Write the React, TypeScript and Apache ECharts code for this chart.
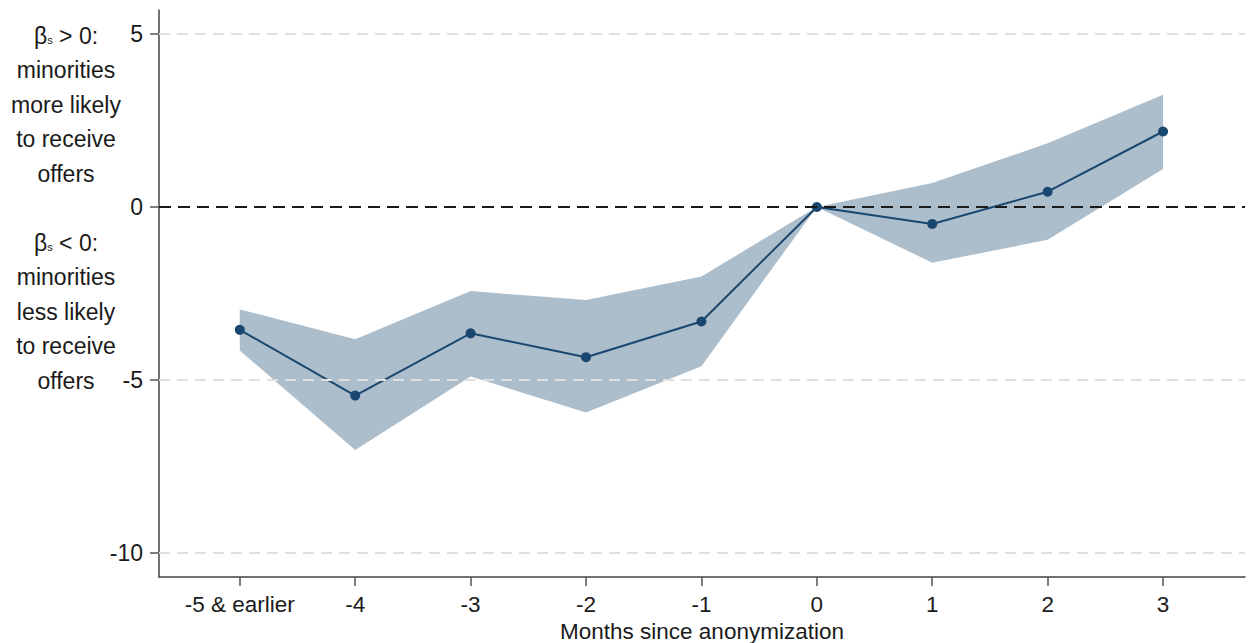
import React, { useEffect, useRef } from "react";
import * as echarts from "echarts";

const months = [-5, -4, -3, -2, -1, 0, 1, 2, 3];
const monthLabels = ["-5 & earlier", "-4", "-3", "-2", "-1", "0", "1", "2", "3"];
const estimates = [-3.55, -5.45, -3.65, -4.34, -3.31, 0, -0.49, 0.44, 2.18];
const ciUpper = [-2.96, -3.82, -2.43, -2.69, -2.01, 0, 0.69, 1.84, 3.24];
const ciLower = [-4.15, -7.02, -4.9, -5.94, -4.6, 0, -1.61, -0.95, 1.1];
const yTicks = [-10, -5, 0, 5];
const posNote = ["minorities", "more likely", "to receive", "offers"];
const negNote = ["minorities", "less likely", "to receive", "offers"];

const FONT = "'Liberation Sans', Arial, sans-serif";
const NAVY = "#1a476f";

export default function App() {
  const ref = useRef<HTMLDivElement>(null);
  useEffect(() => {
    if (!ref.current) return;
    const chart = echarts.init(ref.current, null, { renderer: "svg" });
    const noteStyle = { fontFamily: FONT, fontSize: 23, fill: "#1a1a1a" };
    const lineH = 34.4;
    const graphics: any[] = [];
    const addBlock = (firstOp: string, lines: string[], y0: number) => {
      graphics.push({
        type: "text",
        x: 66,
        y: y0,
        style: {
          text: "β{s|s} " + firstOp + " 0:",
          align: "center",
          verticalAlign: "middle",
          ...noteStyle,
          rich: {
            s: { fontSize: 11, fontFamily: FONT, fill: "#1a1a1a", padding: [8, 0, 0, 0] },
          },
        },
      });
      lines.forEach((t, i) => {
        graphics.push({
          type: "text",
          x: 66,
          y: y0 + (i + 1) * lineH,
          style: { text: t, align: "center", verticalAlign: "middle", ...noteStyle },
        });
      });
    };
    addBlock(">", posNote, 36);
    addBlock("<", negNote, 243);

    const bandData = months.map((m, i) => [m, ciLower[i], ciUpper[i]]);

    chart.setOption({
      animation: false,
      backgroundColor: "#ffffff",
      grid: { left: 159, right: 3, top: 10, bottom: 66, containLabel: false, outerBoundsMode: "none" },
      xAxis: {
        type: "value",
        min: -5.7,
        max: 3.71,
        name: "Months since anonymization",
        nameLocation: "middle",
        nameGap: 43,
        nameMoveOverlap: false,
        nameTextStyle: { fontFamily: FONT, fontSize: 22.5, lineHeight: 22, color: "#1a1a1a" },
        axisLine: { show: true, onZero: false, lineStyle: { color: "#444", width: 1.5 } },
        axisTick: { show: true, length: 9, customValues: months, lineStyle: { color: "#555", width: 1.5 } },
        axisLabel: {
          customValues: months,
          margin: 16,
          fontFamily: FONT,
          fontSize: 22.5,
          lineHeight: 22,
          color: "#1a1a1a",
          formatter: (v: number) => monthLabels[months.indexOf(Math.round(v))] ?? String(v),
        },
        splitLine: { show: false },
      },
      yAxis: {
        type: "value",
        min: -10.69,
        max: 5.69,
        axisLine: { show: true, onZero: false, lineStyle: { color: "#444", width: 1.5 } },
        axisTick: { show: true, length: 9, customValues: yTicks, lineStyle: { color: "#555", width: 1.5 } },
        axisLabel: {
          customValues: yTicks,
          margin: 16,
          fontFamily: FONT,
          fontSize: 23,
          color: "#1a1a1a",
        },
        splitLine: { show: false },
      },
      graphic: graphics,
      series: [
        {
          type: "line",
          data: [],
          z: 1,
          silent: true,
          markLine: {
            silent: true,
            symbol: "none",
            label: { show: false },
            lineStyle: { color: "#e0e0e0", width: 2, type: [11, 7] },
            data: [{ yAxis: 5 }, { yAxis: -5 }, { yAxis: -10 }],
          },
        },
        {
          type: "custom",
          z: 2,
          silent: true,
          data: [bandData[0]],
          renderItem: (params: any, api: any) => {
            const upper = bandData.map((d) => api.coord([d[0], d[2]]));
            const lower = bandData.map((d) => api.coord([d[0], d[1]])).reverse();
            return {
              type: "polygon",
              shape: { points: upper.concat(lower) },
              style: { fill: "rgba(26,71,111,0.36)", stroke: "none" },
            };
          },
        },
        {
          type: "line",
          data: [],
          z: 3,
          silent: true,
          markLine: {
            silent: true,
            symbol: "none",
            label: { show: false },
            lineStyle: { color: "#1a1a1a", width: 2, type: [12, 7] },
            data: [{ yAxis: 0 }],
          },
        },
        {
          type: "line",
          z: 4,
          data: months.map((m, i) => [m, estimates[i]]),
          symbol: "circle",
          symbolSize: 10,
          lineStyle: { color: NAVY, width: 2 },
          itemStyle: { color: NAVY },
        },
      ],
    });
    return () => chart.dispose();
  }, []);
  return (
    <div
      ref={ref}
      style={{ position: "absolute", left: 0, top: 0, width: 1248, height: 643 }}
    />
  );
}
